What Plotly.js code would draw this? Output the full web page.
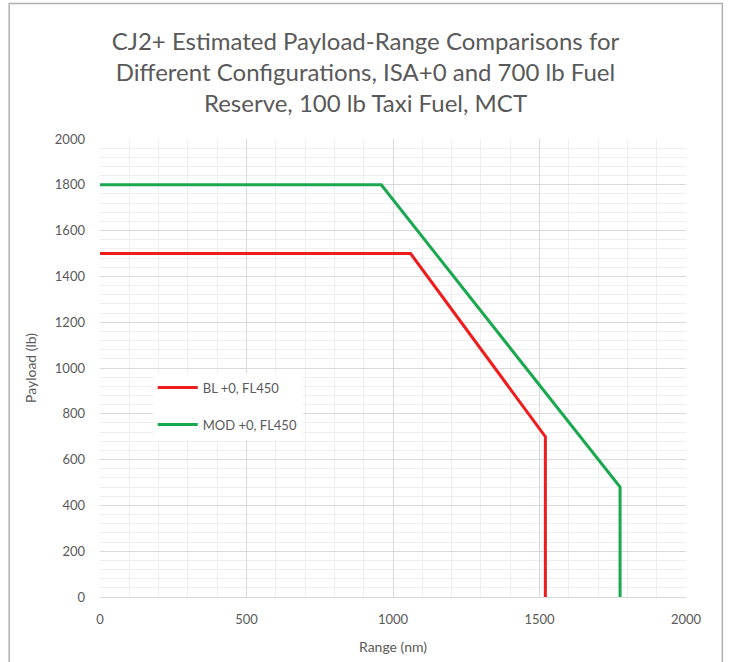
<!DOCTYPE html>
<html>
<head>
<meta charset="utf-8">
<script src="https://cdn.plot.ly/plotly-3.0.1.min.js"></script>
<style>html,body{margin:0;padding:0;background:#fff;}#chart{width:731px;height:662px;}</style>
</head>
<body>
<div id="chart"></div>
<script>
// Data
const blName = "BL +0, FL450";
const blRange = [0, 1060, 1520, 1520];
const blPayload = [1500, 1500, 700, 0];

const modName = "MOD +0, FL450";
const modRange = [0, 960, 1775, 1775];
const modPayload = [1800, 1800, 480, 0];

const titleText = "CJ2+ Estimated Payload-Range Comparisons for<br>Different Configurations, ISA+0 and 700 lb Fuel<br>Reserve, 100 lb Taxi Fuel, MCT";
const xTitle = "Range (nm)";
const yTitle = "Payload (lb)";

const font = "Lato, 'Open Sans', sans-serif";
const txt = "#595959";

const traces = [
  {x: blRange, y: blPayload, name: blName, mode: "lines", legendgroup: "a",
   line: {color: "#ee1c1c", width: 3}},
  {x: modRange, y: modPayload, name: modName, mode: "lines", legendgroup: "b",
   line: {color: "#1aa84f", width: 3}}
];

const layout = {
  width: 731, height: 662,
  paper_bgcolor: "#fff", plot_bgcolor: "#fff",
  margin: {l: 100, r: 45, t: 139, b: 65},
  font: {family: font, color: txt},
  title: {text: titleText, font: {family: font, size: 24, color: txt},
          x: 0.5, xanchor: "center", y: 0.925, yanchor: "top", yref: "container"},
  xaxis: {range: [0, 2000], dtick: 500, tick0: 0, showgrid: true, gridcolor: "#d9d9d9",
          minor: {dtick: 100, showgrid: true, gridcolor: "#eeeeee"},
          zeroline: false, showline: true, linecolor: "#d9d9d9", ticks: "",
          tickfont: {size: 13, color: txt}, ticklabelstandoff: 10, fixedrange: true,
          title: {text: xTitle, font: {size: 14, color: txt}, standoff: 16}},
  yaxis: {range: [0, 2000], dtick: 200, tick0: 0, showgrid: true, gridcolor: "#d9d9d9",
          minor: {dtick: 40, showgrid: true, gridcolor: "#eeeeee"},
          zeroline: false, showline: false, ticks: "",
          tickfont: {size: 13, color: txt}, ticklabelstandoff: 14,
          title: {text: yTitle, font: {size: 14, color: txt}, standoff: 14}},
  legend: {x: 0.09, y: 0.49, xanchor: "left", yanchor: "top",
           bgcolor: "#ffffff", font: {size: 13, color: txt},
           traceorder: "grouped", tracegroupgap: 17, itemwidth: 40},
  shapes: [
    {type: "rect", xref: "paper", yref: "paper", x0: -0.155, x1: 1.062, y0: -0.2, y1: 1.296,
     line: {color: "#b0b0b0", width: 1.5}, fillcolor: "rgba(0,0,0,0)", layer: "below"}
  ]
};

Plotly.newPlot("chart", traces, layout, {displayModeBar: false, staticPlot: true});
</script>
</body>
</html>
